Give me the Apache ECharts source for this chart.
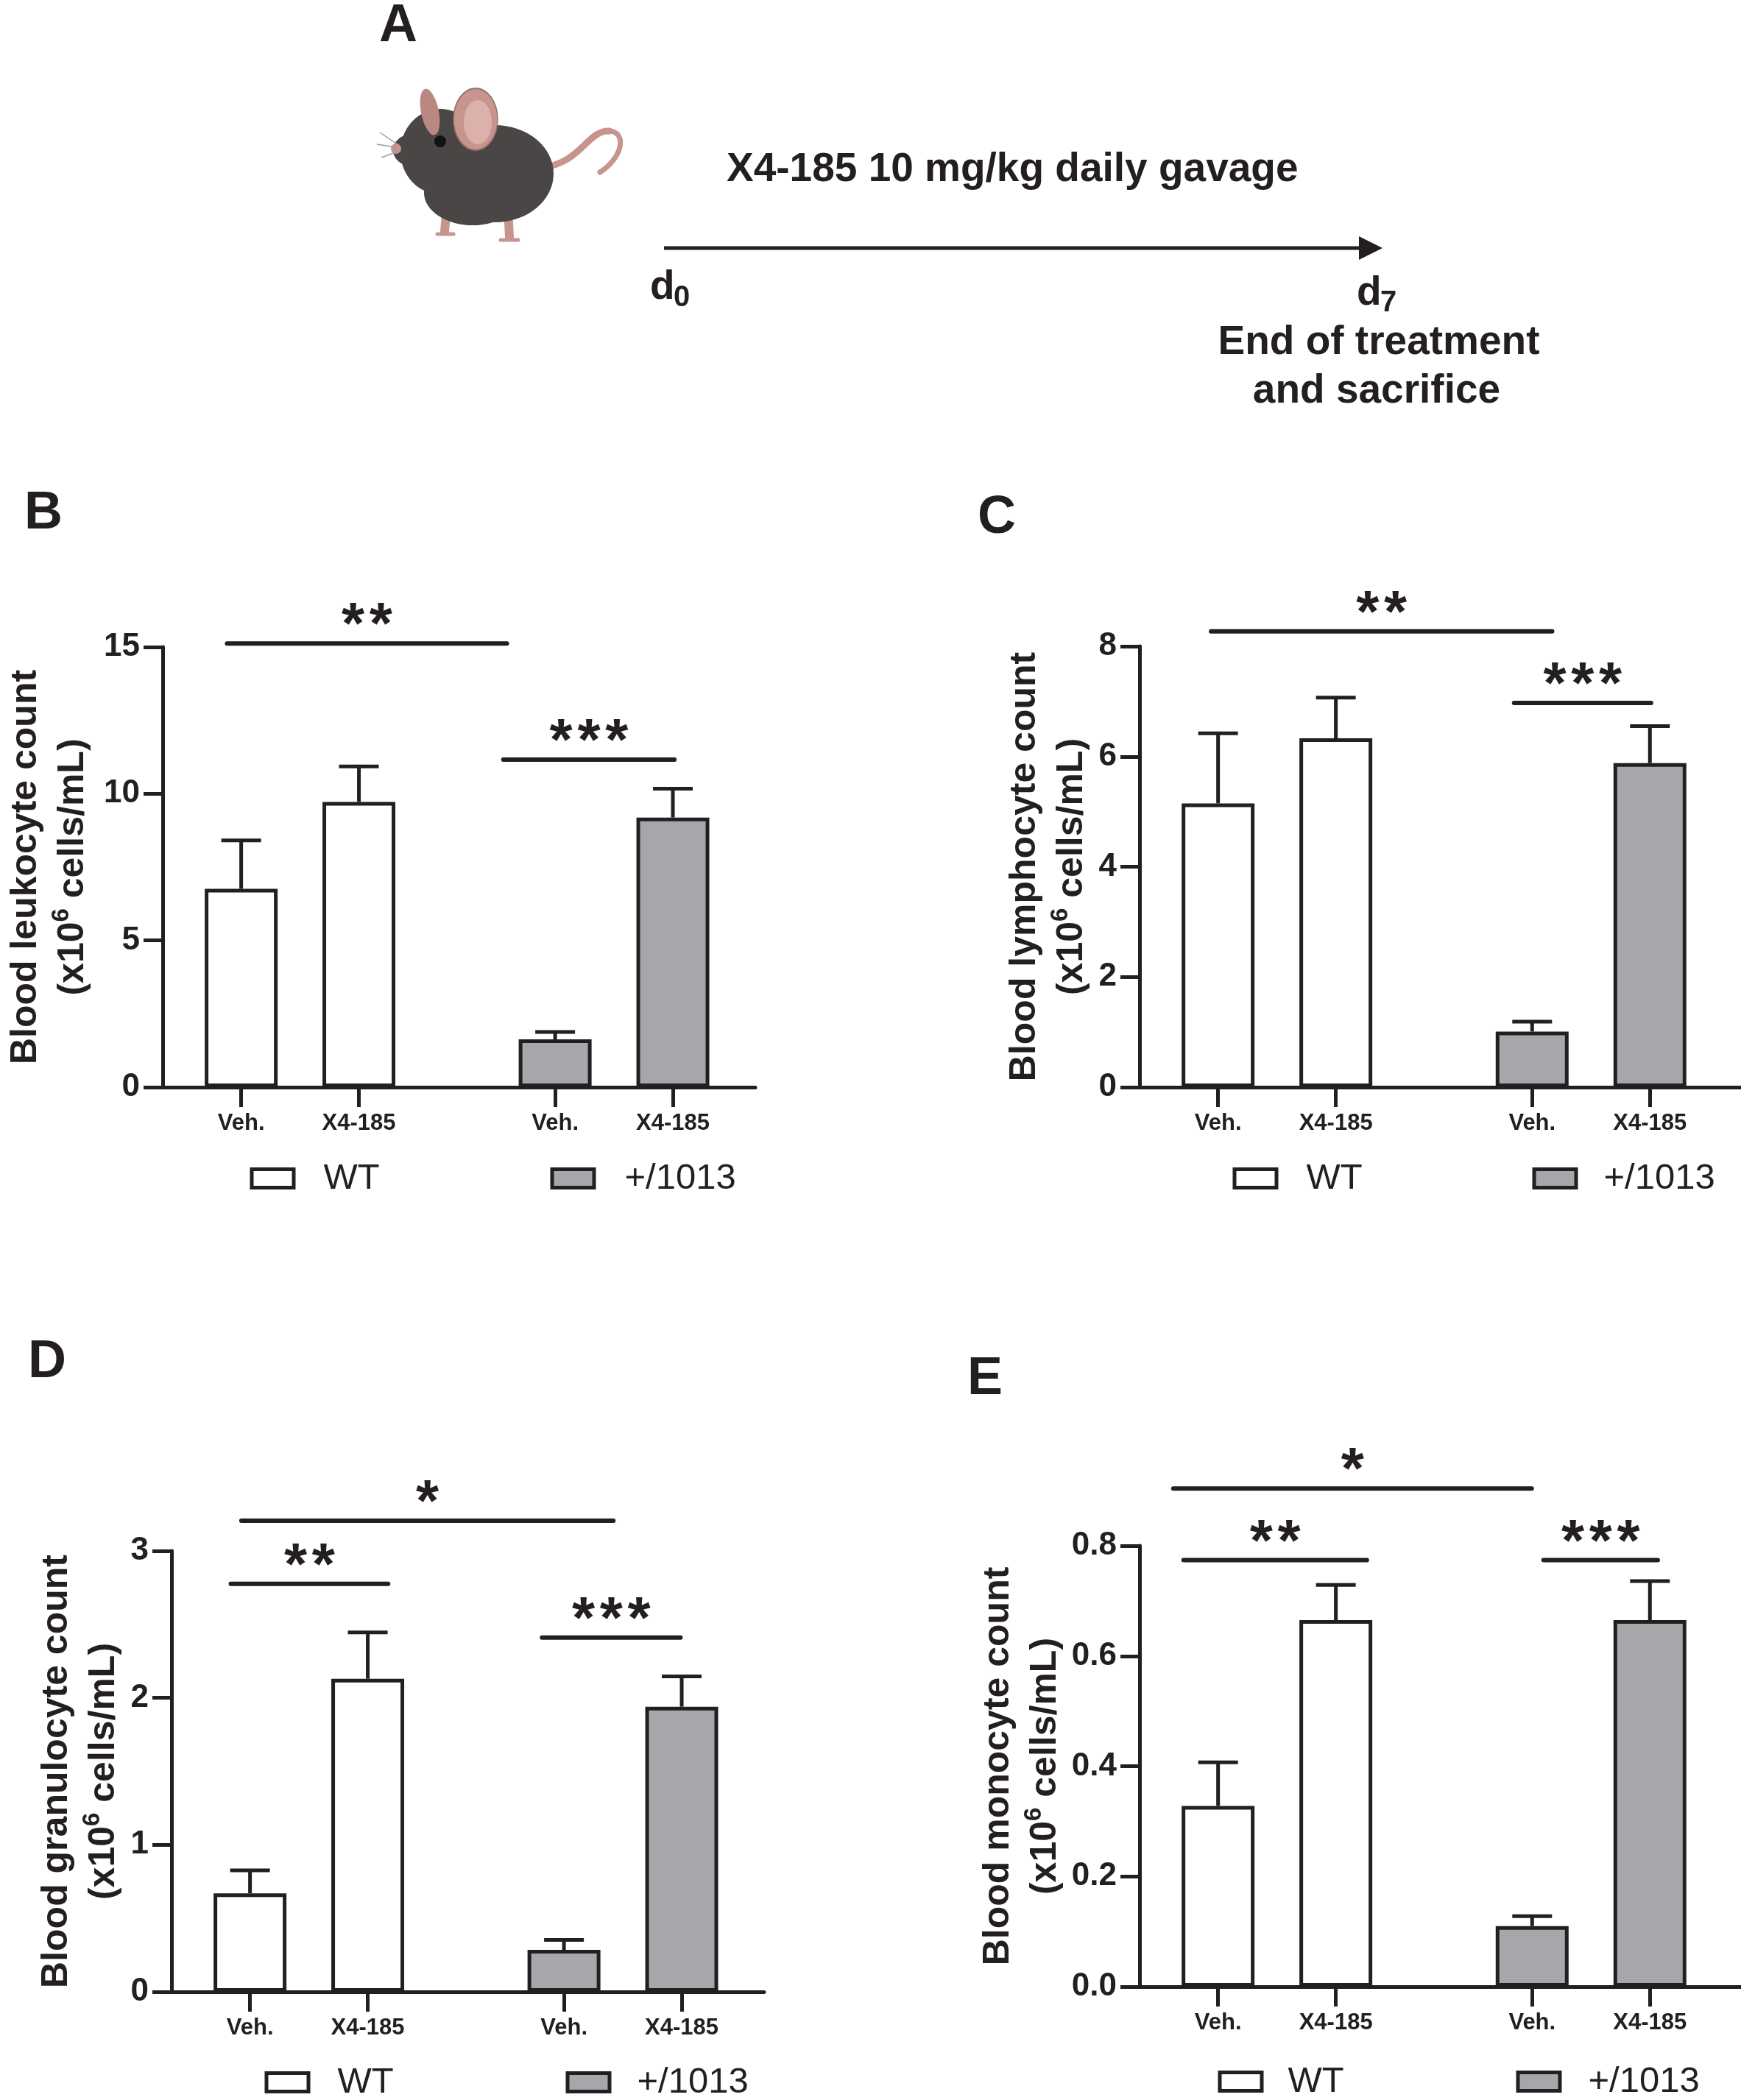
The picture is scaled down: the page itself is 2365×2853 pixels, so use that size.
<!DOCTYPE html>
<html>
<head>
<meta charset="utf-8">
<title>Blood counts</title>
<script src="https://cdn.jsdelivr.net/npm/echarts@6.0.0/dist/echarts.min.js"></script>
<style>
  html, body { margin: 0; padding: 0; background: #ffffff; }
  #main { width: 2365px; height: 2853px; }
</style>
</head>
<body>
<div id="main"></div>
<script>
// x positions of the four bars (two groups of two) and their tick labels
var tickPos = [3, 6, 11, 14];
var tickLabels = ['Veh.', 'X4-185', 'Veh.', 'X4-185'];
var groups = ['WT', '+/1013'];

// mean and SEM per bar: WT Veh, WT X4-185, +/1013 Veh, +/1013 X4-185
var leukoMean = [6.76, 9.72, 1.63, 9.19];
var leukoSem = [1.65, 1.21, 0.25, 0.98];
var lymphoMean = [5.15, 6.33, 1.01, 5.88];
var lymphoSem = [1.27, 0.74, 0.18, 0.67];
var granuloMean = [0.67, 2.13, 0.285, 1.94];
var granuloSem = [0.156, 0.315, 0.068, 0.206];
var monoMean = [0.328, 0.665, 0.110, 0.665];
var monoSem = [0.079, 0.064, 0.018, 0.071];

// significance brackets: [x from, x to, y]
var leukoSig = [[2.64, 9.77, 15.12], [9.68, 14.04, 11.16]];
var leukoStars = ['**', '***'];
var lymphoSig = [[2.82, 11.51, 8.27], [10.54, 14.03, 6.97]];
var lymphoStars = ['**', '***'];
var granuloSig = [[2.78, 12.26, 3.205], [2.51, 6.52, 2.776], [10.44, 13.97, 2.41]];
var granuloStars = ['*', '**', '***'];
var monoSig = [[1.86, 10.99, 0.904], [2.12, 6.79, 0.774], [11.29, 14.2, 0.774]];
var monoStars = ['*', '**', '***'];

var FONT = '"Liberation Sans", Arial, Helvetica, sans-serif';
var INK = '#231f20';
var GREY = '#a7a6ab';

var panels = [
    {letter: 'B', title: 'Blood leukocyte count', mean: leukoMean, sem: leukoSem, sig: leukoSig, stars: leukoStars,
     yMax: 15, yStep: 5, dec: 0, xMax: 16.1, nameGap: 90,
     grid: {left: 221, top: 879, width: 805, height: 598},
     legend: [[337, 437, 1574], [745, 846, 1574]], letterPos: [33, 698]},
    {letter: 'C', title: 'Blood lymphocyte count', mean: lymphoMean, sem: lymphoSem, sig: lymphoSig, stars: lymphoStars,
     yMax: 8, yStep: 2, dec: 0, xMax: 16.32, nameGap: 58,
     grid: {left: 1548, top: 878, width: 817, height: 599},
     legend: [[1672, 1772, 1574], [2079, 2176, 1574]], letterPos: [1328, 704]},
    {letter: 'D', title: 'Blood granulocyte count', mean: granuloMean, sem: granuloSem, sig: granuloSig, stars: granuloStars,
     yMax: 3, yStep: 1, dec: 0, xMax: 16.1, nameGap: 56,
     grid: {left: 233, top: 2107, width: 805, height: 599},
     legend: [[357, 456, 2802], [766, 863, 2802]], letterPos: [38, 1851]},
    {letter: 'E', title: 'Blood monocyte count', mean: monoMean, sem: monoSem, sig: monoSig, stars: monoStars,
     yMax: 0.8, yStep: 0.2, dec: 1, xMax: 16.32, nameGap: 91,
     grid: {left: 1548, top: 2100, width: 817, height: 599},
     legend: [[1652, 1747, 2801], [2057, 2155, 2801]], letterPos: [1314, 1874]}
];

function txt(text, x, y, size, opts) {
    opts = opts || {};
    var align = opts.align || 'left';
    return {
        type: 'text', x: x, y: y, z: 10,
        style: {
            text: text, fill: INK,
            font: (opts.weight || 'bold') + ' ' + size + 'px ' + FONT,
            align: align, textAlign: align,
            verticalAlign: 'middle', textVerticalAlign: 'middle'
        }
    };
}

// ellipse built from a scaled circle
function oval(cx, cy, rx, ry, style, rot) {
    return {type: 'circle', x: cx, y: cy, rotation: rot || 0, scaleX: rx / ry, scaleY: 1,
            shape: {cx: 0, cy: 0, r: ry}, style: style};
}

function renderErr(params, api) {
    var x = api.value(0), m = api.value(1), s = api.value(2);
    var p0 = api.coord([x, m]);
    var p1 = api.coord([x, m + s]);
    return {
        type: 'group',
        children: [
            {type: 'line', shape: {x1: p0[0], y1: p0[1], x2: p1[0], y2: p1[1]},
             style: {stroke: INK, lineWidth: 5}},
            {type: 'line', shape: {x1: p1[0] - 27, y1: p1[1], x2: p1[0] + 27, y2: p1[1]},
             style: {stroke: INK, lineWidth: 5}}
        ]
    };
}

function makeSigRenderer(stars) {
    return function (params, api) {
        var a = api.coord([api.value(0), api.value(2)]);
        var b = api.coord([api.value(1), api.value(2)]);
        // each star is its own token, with a small gap token between them
        var label = stars[params.dataIndex].split('').map(function (c) {
            return '{s|' + c + '}';
        }).join('{g| }');
        return {
            type: 'group',
            children: [
                {type: 'line', shape: {x1: a[0], y1: a[1], x2: b[0], y2: b[1]},
                 style: {stroke: INK, lineWidth: 6, lineCap: 'round'}},
                {type: 'text', x: (a[0] + b[0]) / 2, y: a[1] - 22,
                 style: {text: label, fill: INK, font: 'bold 80px ' + FONT,
                         align: 'center', textAlign: 'center',
                         verticalAlign: 'middle', textVerticalAlign: 'middle',
                         rich: {
                             s: {fontSize: 80, fontWeight: 'bold', fontFamily: FONT, fill: INK, lineHeight: 80},
                             g: {fontSize: 24, fontFamily: FONT, lineHeight: 80}
                         }}}
            ]
        };
    };
}

var grids = [], xAxes = [], yAxes = [], series = [], legends = [], graphics = [];

panels.forEach(function (p, i) {
    grids.push(p.grid);
    xAxes.push({
        type: 'value', gridIndex: i, min: 1, max: p.xMax,
        splitLine: {show: false},
        axisLine: {onZero: false, lineStyle: {color: INK, width: 5, cap: 'round'}},
        axisTick: {customValues: tickPos, length: 27, lineStyle: {color: INK, width: 5}},
        axisLabel: {
            customValues: tickPos, margin: 34,
            color: INK, fontSize: 31, fontWeight: 'bold', fontFamily: FONT,
            formatter: function (v) {
                var k = tickPos.indexOf(Number(v));
                return k < 0 ? '' : tickLabels[k];
            }
        }
    });
    yAxes.push({
        type: 'value', gridIndex: i, min: 0, max: p.yMax, interval: p.yStep,
        splitLine: {show: false},
        axisLine: {show: true, onZero: false, lineStyle: {color: INK, width: 5, cap: 'round'}},
        axisTick: {show: true, length: 26, lineStyle: {color: INK, width: 5}},
        axisLabel: {
            margin: 31, color: INK, fontSize: 44, fontWeight: 'bold', fontFamily: FONT,
            formatter: function (v) { return Number(v).toFixed(p.dec); }
        },
        name: p.title + '\n(x10{sup|6} cells/mL)',
        nameLocation: 'middle', nameGap: p.nameGap,
        nameTextStyle: {
            color: INK, fontSize: 50, fontWeight: 'bold', fontFamily: FONT, lineHeight: 64,
            rich: {sup: {color: INK, fontSize: 33, fontWeight: 'bold', fontFamily: FONT,
                         lineHeight: 32, verticalAlign: 'top'}}
        }
    });

    // bars: first two belong to WT, last two to +/1013
    series.push({
        name: groups[0], type: 'bar', xAxisIndex: i, yAxisIndex: i,
        barWidth: 99, barGap: '-100%',
        itemStyle: {color: '#ffffff', borderColor: INK, borderWidth: 5},
        data: [[tickPos[0], p.mean[0]], [tickPos[1], p.mean[1]]]
    });
    series.push({
        name: groups[1], type: 'bar', xAxisIndex: i, yAxisIndex: i,
        barWidth: 99, barGap: '-100%',
        itemStyle: {color: GREY, borderColor: INK, borderWidth: 5},
        data: [[tickPos[2], p.mean[2]], [tickPos[3], p.mean[3]]]
    });
    series.push({
        type: 'custom', xAxisIndex: i, yAxisIndex: i, clip: false, z: 3,
        renderItem: renderErr,
        data: tickPos.map(function (x, k) { return [x, p.mean[k], p.sem[k]]; })
    });
    series.push({
        type: 'custom', xAxisIndex: i, yAxisIndex: i, clip: false, z: 3,
        renderItem: makeSigRenderer(p.stars),
        data: p.sig
    });

    p.legend.forEach(function (L, g) {
        legends.push({
            data: [groups[g]], left: L[0] + 2.5, top: L[2] + 2.5,
            padding: 0, selectedMode: false, icon: 'rect',
            itemWidth: 57, itemHeight: 25,
            itemStyle: {color: g === 0 ? '#ffffff' : GREY, borderColor: INK, borderWidth: 5},
            textStyle: {color: INK, fontSize: 49, fontFamily: FONT, lineHeight: 25,
                        padding: [0, 0, 0, L[1] - L[0] - 64.5]}
        });
    });

    graphics.push(txt(p.letter, p.letterPos[0], p.letterPos[1], 72));
});

// panel A: treatment timeline
graphics.push(txt('A', 541, 36, 72, {align: 'center'}));
graphics.push(txt('X4-185 10 mg/kg daily gavage', 987, 231, 55));
graphics.push({type: 'line', shape: {x1: 902, y1: 337, x2: 1848, y2: 337}, style: {stroke: INK, lineWidth: 5}});
graphics.push({type: 'polygon', shape: {points: [[1846, 321], [1878, 337], [1846, 353]]}, style: {fill: INK}});
graphics.push(txt('d', 883, 391, 55));
graphics.push(txt('0', 915, 405, 40));
graphics.push(txt('d', 1843, 399, 55));
graphics.push(txt('7', 1875, 412, 40));
graphics.push(txt('End of treatment', 1873, 466, 55, {align: 'center'}));
graphics.push(txt('and sacrifice', 1870, 532, 55, {align: 'center'}));

// simple mouse figure
var FUR = '#4b4646', PINK = '#c7948e', PINK2 = '#dcb1ac';
graphics.push({
    type: 'group',
    children: [
        {type: 'bezierCurve', shape: {x1: 735, y1: 228, cpx1: 790, cpy1: 222, cpx2: 798, cpy2: 176, x2: 828, y2: 178},
         style: {stroke: PINK, lineWidth: 9, fill: null, lineCap: 'round'}},
        {type: 'bezierCurve', shape: {x1: 828, y1: 178, cpx1: 852, cpy1: 180, cpx2: 846, cpy2: 214, x2: 815, y2: 234},
         style: {stroke: PINK, lineWidth: 7, fill: null, lineCap: 'round'}},
        {type: 'line', shape: {x1: 690, y1: 282, x2: 692, y2: 322}, style: {stroke: PINK, lineWidth: 12, lineCap: 'round'}},
        {type: 'line', shape: {x1: 680, y1: 326, x2: 704, y2: 326}, style: {stroke: PINK, lineWidth: 5, lineCap: 'round'}},
        {type: 'line', shape: {x1: 608, y1: 272, x2: 604, y2: 314}, style: {stroke: PINK, lineWidth: 12, lineCap: 'round'}},
        {type: 'line', shape: {x1: 594, y1: 318, x2: 616, y2: 318}, style: {stroke: PINK, lineWidth: 5, lineCap: 'round'}},
        oval(672, 236, 80, 66, {fill: FUR}),
        oval(642, 262, 66, 44, {fill: FUR}),
        oval(598, 206, 54, 58, {fill: FUR}),
        oval(560, 204, 26, 22, {fill: FUR}),
        oval(584, 152, 12, 32, {fill: '#b98883'}, 0.2),
        oval(646, 162, 30, 42, {fill: PINK, stroke: '#8f6f6b', lineWidth: 2}),
        oval(649, 166, 19, 30, {fill: PINK2}),
        {type: 'circle', shape: {cx: 598, cy: 192, r: 8}, style: {fill: '#111111'}},
        {type: 'circle', shape: {cx: 538, cy: 202, r: 7}, style: {fill: PINK}},
        {type: 'line', shape: {x1: 540, y1: 196, x2: 516, y2: 180}, style: {stroke: '#9a9a9a', lineWidth: 1.5}},
        {type: 'line', shape: {x1: 538, y1: 200, x2: 512, y2: 196}, style: {stroke: '#9a9a9a', lineWidth: 1.5}},
        {type: 'line', shape: {x1: 540, y1: 206, x2: 518, y2: 214}, style: {stroke: '#9a9a9a', lineWidth: 1.5}}
    ]
});

var chart = echarts.init(document.getElementById('main'), null, {renderer: 'canvas'});
chart.setOption({
    animation: false,
    backgroundColor: '#ffffff',
    textStyle: {fontFamily: FONT},
    grid: grids,
    xAxis: xAxes,
    yAxis: yAxes,
    legend: legends,
    series: series,
    graphic: {elements: graphics}
});
</script>
</body>
</html>
